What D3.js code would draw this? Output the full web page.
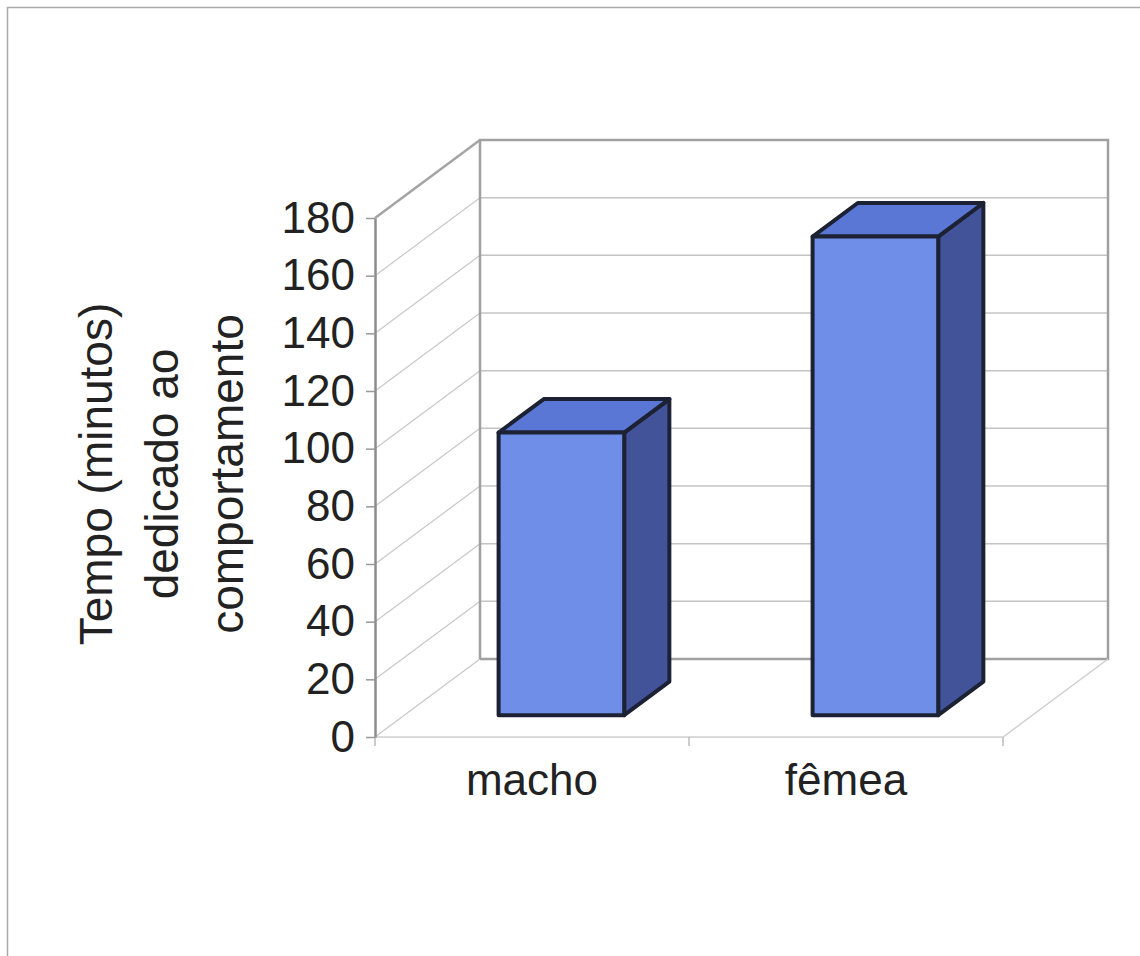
<!DOCTYPE html>
<html>
<head>
<meta charset="utf-8">
<script src="https://cdn.jsdelivr.net/npm/d3@7"></script>
<style>
  html, body { margin: 0; padding: 0; background: #fff; }
  svg { display: block; }
  text { font-family: "Liberation Sans", Arial, sans-serif; fill: #222; }
</style>
</head>
<body>
<svg id="chart" width="1140" height="956"></svg>
<script>
// Tempo dedicado ao comportamento, por sexo
const categories = ["macho", "fêmea"];
const values = [98, 166];
const yTicks = [0, 20, 40, 60, 80, 100, 120, 140, 160, 180];
const titleLines = ["Tempo (minutos)", "dedicado ao", "comportamento"];

const svg = d3.select("#chart");

// frame around the chart area
svg.append("rect")
  .attr("x", 7.5).attr("y", 7.5)
  .attr("width", 1160).attr("height", 980)
  .attr("fill", "#fff").attr("stroke", "#aaa").attr("stroke-width", 1.5);

// front plane scales; the back wall is the same plane shifted by (dx, dy)
const y = d3.scaleLinear().domain([0, 180]).range([737, 218]);
const x = d3.scaleBand().domain(categories).range([375, 1003])
  .paddingInner(0.6).paddingOuter(0.3);
const xEdge = d3.scaleLinear().domain([0, categories.length]).range([375, 1003]);
const dx = 105, dy = -78;
const depthFront = 0.28, depthBack = 0.71;

const P = (px, v, d) => [px + d * dx, y(v) + d * dy];
const line = d3.line();

const walls = svg.append("g");

// side wall gridlines (diagonals)
walls.selectAll("line.side").data(yTicks).join("line")
  .attr("class", "side")
  .attr("x1", v => P(375, v, 0)[0]).attr("y1", v => P(375, v, 0)[1])
  .attr("x2", v => P(375, v, 1)[0]).attr("y2", v => P(375, v, 1)[1])
  .attr("stroke", v => v === 180 ? "#a4a4a4" : "#c8c8c8")
  .attr("stroke-width", v => v === 180 ? 2.5 : 1.2);

// back wall gridlines
walls.selectAll("line.back").data(yTicks.filter(v => v > 0 && v < 180)).join("line")
  .attr("class", "back")
  .attr("x1", P(375, 0, 1)[0]).attr("x2", P(1003, 0, 1)[0])
  .attr("y1", v => P(375, v, 1)[1]).attr("y2", v => P(375, v, 1)[1])
  .attr("stroke", "#c4c4c4").attr("stroke-width", 1.5);

// back wall outline
walls.append("path")
  .attr("d", line([P(375, 0, 1), P(375, 180, 1), P(1003, 180, 1), P(1003, 0, 1), P(375, 0, 1)]))
  .attr("fill", "none").attr("stroke", "#a0a0a0").attr("stroke-width", 2.5);

// floor edges
walls.append("path")
  .attr("d", line([P(375, 0, 0), P(1003, 0, 0), P(1003, 0, 1)]))
  .attr("fill", "none").attr("stroke", "#cfcfcf").attr("stroke-width", 1.5);

// category boundary ticks
walls.selectAll("line.xt").data(d3.range(categories.length + 1)).join("line")
  .attr("class", "xt")
  .attr("x1", i => xEdge(i)).attr("x2", i => xEdge(i))
  .attr("y1", y(0)).attr("y2", y(0) + 9)
  .attr("stroke", "#bbb").attr("stroke-width", 1.5);

// 3D bars
const bars = svg.append("g");
const bw = x.bandwidth();
categories.forEach((c, i) => {
  const v = values[i];
  const x0 = x(c);
  const x1 = x0 + bw;
  const ft = [P(x0, v, depthFront), P(x1, v, depthFront), P(x1, 0, depthFront), P(x0, 0, depthFront)];
  const top = [P(x0, v, depthFront), P(x1, v, depthFront), P(x1, v, depthBack), P(x0, v, depthBack)];
  const side = [P(x1, v, depthFront), P(x1, v, depthBack), P(x1, 0, depthBack), P(x1, 0, depthFront)];
  const g = bars.append("g")
    .attr("stroke", "#1c2234").attr("stroke-width", 4).attr("stroke-linejoin", "round");
  g.append("path").attr("d", line(side) + "Z").attr("fill", "#43539a");
  g.append("path").attr("d", line(top) + "Z").attr("fill", "#5a77d6");
  g.append("path").attr("d", line(ft) + "Z").attr("fill", "#6e8ee7");
});

// value axis on the front-left edge
const yAxis = svg.append("g")
  .attr("transform", "translate(375,0)")
  .call(d3.axisLeft(y).tickValues(yTicks).tickSize(9).tickSizeOuter(0).tickPadding(11));
yAxis.select(".domain").attr("stroke", "#8c8c8c").attr("stroke-width", 2.5);
yAxis.selectAll(".tick line").attr("stroke", "#999").attr("stroke-width", 1.5);
yAxis.selectAll(".tick text")
  .attr("font-size", 44).attr("fill", "#222")
  .attr("font-family", "'Liberation Sans', Arial, sans-serif");

// category labels
svg.append("g").selectAll("text").data(categories).join("text")
  .attr("x", c => x(c) + bw / 2)
  .attr("y", 795)
  .attr("text-anchor", "middle")
  .attr("font-size", 44)
  .text(c => c);

// value axis title, three rotated lines
svg.append("g")
  .attr("transform", "rotate(-90)")
  .selectAll("text").data(titleLines).join("text")
  .attr("x", -474)
  .attr("y", (d, i) => 112 + i * 65.5)
  .attr("text-anchor", "middle")
  .attr("font-size", 46)
  .text(d => d);
</script>
</body>
</html>
